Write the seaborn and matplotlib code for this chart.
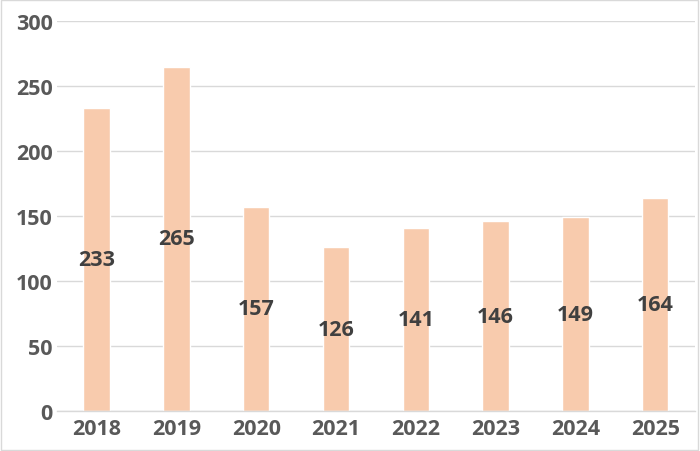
import matplotlib
matplotlib.use("Agg")
import matplotlib.pyplot as plt
import pandas as pd
import seaborn as sns
from matplotlib.patches import Rectangle

years = ["2018", "2019", "2020", "2021", "2022", "2023", "2024", "2025"]
values = [233, 265, 157, 126, 141, 146, 149, 164]
y_ticks = [0, 50, 100, 150, 200, 250, 300]

df = pd.DataFrame({"year": years, "value": values})

sns.set_theme(style="white")
plt.rcParams["font.family"] = ["Open Sans", "DejaVu Sans"]
plt.rcParams["font.weight"] = "bold"

fig = plt.figure(figsize=(7, 4.52), dpi=100)
ax = fig.add_axes([0.081, 0.0885, 0.912, 0.8625])

sns.barplot(data=df, x="year", y="value", color="#F8CBAD", saturation=1,
            width=0.33, ax=ax)

ax.set_ylim(0, 300)
ax.set_yticks(y_ticks)
ax.set_xlim(-0.5, len(years) - 0.5)
ax.grid(axis="y", color="#D9D9D9", linewidth=1)
ax.set_axisbelow(True)
for side in ["left", "right", "top"]:
    ax.spines[side].set_visible(False)
ax.spines["bottom"].set_color("#D9D9D9")
ax.spines["bottom"].set_linewidth(1)
ax.tick_params(axis="both", length=0, labelsize=15.5, labelcolor="#595959", pad=3)
ax.tick_params(axis="x", pad=5)
for lab in ax.get_xticklabels() + ax.get_yticklabels():
    lab.set_fontweight("bold")
ax.set_xlabel("")
ax.set_ylabel("")

# value labels at the middle of each bar
for bar, v in zip(ax.patches, values):
    ax.text(bar.get_x() + bar.get_width() / 2, v / 2, str(v),
            ha="center", va="center", fontsize=15.5, fontweight="bold",
            color="#404040")

fig.patches.append(Rectangle((0.002, 0.003), 0.995, 0.994, transform=fig.transFigure,
                             fill=False, edgecolor="#D9D9D9", linewidth=1))

fig.savefig("out.png", dpi=100)
